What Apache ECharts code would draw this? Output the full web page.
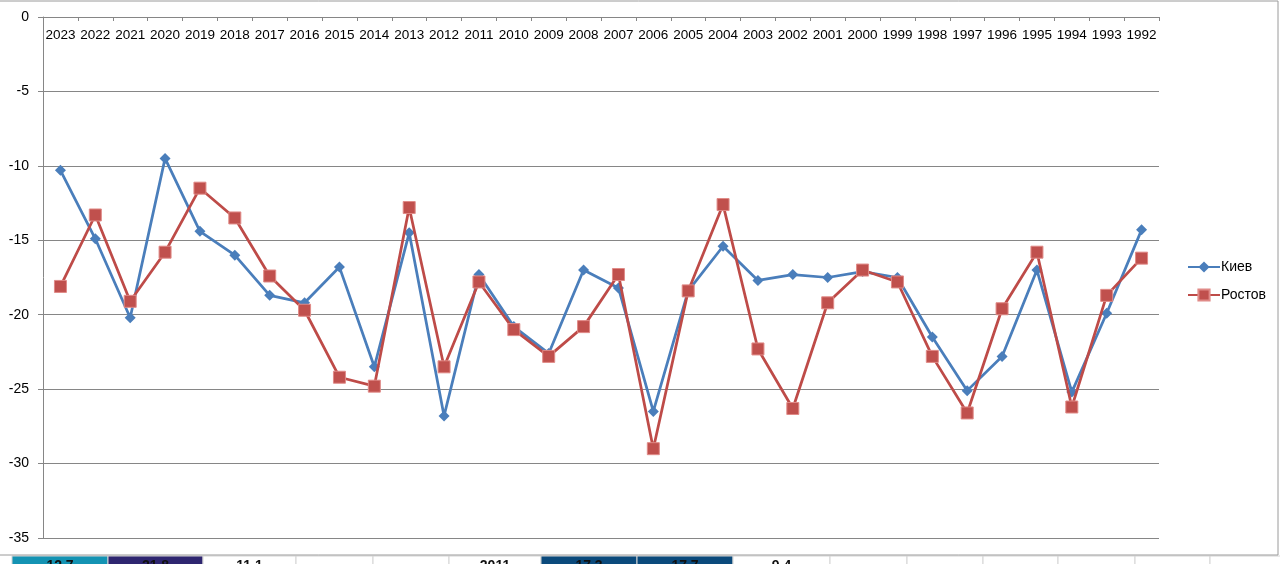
<!DOCTYPE html>
<html>
<head>
<meta charset="utf-8">
<script src="https://cdn.jsdelivr.net/npm/echarts@6/dist/echarts.min.js"></script>
<style>
html,body{margin:0;padding:0;background:#fff;}
#c{width:1280px;height:564px;}
</style>
</head>
<body>
<div id="c"></div>
<script>
var years = ['2023','2022','2021','2020','2019','2018','2017','2016','2015','2014','2013','2012','2011','2010','2009','2008','2007','2006','2005','2004','2003','2002','2001','2000','1999','1998','1997','1996','1995','1994','1993','1992'];
var kiev = [-10.3,-14.9,-20.2,-9.5,-14.4,-16.0,-18.7,-19.2,-16.8,-23.5,-14.5,-26.8,-17.3,-20.8,-22.6,-17.0,-18.2,-26.5,-18.4,-15.4,-17.7,-17.3,-17.5,-17.1,-17.5,-21.5,-25.1,-22.8,-17.0,-25.2,-19.9,-14.3];
var rostov = [-18.1,-13.3,-19.1,-15.8,-11.5,-13.5,-17.4,-19.7,-24.2,-24.8,-12.8,-23.5,-17.8,-21.0,-22.8,-20.8,-17.3,-29.0,-18.4,-12.6,-22.3,-26.3,-19.2,-17.0,-17.8,-22.8,-26.6,-19.6,-15.8,-26.2,-18.7,-16.2];
var seriesNames = ['Киев','Ростов'];

// spreadsheet cells peeking below the chart frame
var cellEdges = [12,108,203,296,373,449,541,637,733,830,907,983,1058,1135,1210,1290];
var cellFills = ['#1493b3','#2e2670','#ffffff','#ffffff','#ffffff','#ffffff','#0b4a7c','#0b4a7c','#ffffff','#ffffff','#ffffff','#ffffff','#ffffff','#ffffff','#ffffff'];
var cellTexts = ['12.7','21.8','11.1','','','2011','17.3','17.7','9.4','','','','','',''];

var graphics = [];
for (var i = 0; i < cellFills.length; i++) {
  graphics.push({type:'rect', shape:{x:cellEdges[i], y:556, width:cellEdges[i+1]-cellEdges[i], height:12},
    style:{fill:cellFills[i], stroke:'#d4d4d4', lineWidth:1}, z:1});
  if (cellTexts[i]) {
    graphics.push({type:'text', x:(cellEdges[i]+cellEdges[i+1])/2, y:559,
      style:{text:cellTexts[i], fill:'#111', font:'bold 14px "Liberation Sans", Arial', align:'center', verticalAlign:'top'}, z:2});
  }
}
graphics.push({type:'rect', shape:{x:-1, y:1, width:1279, height:554}, style:{fill:'none', stroke:'#9a9a9a', lineWidth:1}, z:3});

var chart = echarts.init(document.getElementById('c'), null, {renderer:'canvas'});
chart.setOption({
  backgroundColor:'#ffffff',
  animation:false,
  textStyle:{fontFamily:'"Liberation Sans", Arial, sans-serif'},
  graphic: graphics,
  grid:{left:43, top:17, right:121, bottom:26, containLabel:false},
  legend:{
    data: seriesNames,
    orient:'vertical',
    left:1182, top:255,
    itemWidth:32, itemHeight:14, itemGap:14,
    textStyle:{fontSize:14, color:'#000', padding:[0,0,0,-4]}
  },
  xAxis:{
    type:'category',
    data: years,
    position:'top',
    boundaryGap:true,
    axisLine:{show:true, lineStyle:{color:'#868686', width:1}},
    axisTick:{show:true, inside:true, length:4, lineStyle:{color:'#868686'}},
    axisLabel:{inside:true, margin:11, fontSize:13.5, color:'#000', interval:0},
    splitLine:{show:false}
  },
  yAxis:{
    type:'value',
    min:-35, max:0, interval:5,
    axisLine:{show:true, lineStyle:{color:'#868686', width:1}},
    axisTick:{show:true, length:5, lineStyle:{color:'#868686'}},
    axisLabel:{margin:14, fontSize:14, color:'#000'},
    splitLine:{show:true, lineStyle:{color:'#868686', width:1}}
  },
  series:[
    {name:seriesNames[0], type:'line', data:kiev, symbol:'diamond', symbolSize:11,
      lineStyle:{color:'#4a7ebb', width:2.75}, itemStyle:{color:'#4a7ebb'}, z:2},
    {name:seriesNames[1], type:'line', data:rostov, symbol:'rect', symbolSize:12,
      lineStyle:{color:'#be4b48', width:2.75}, itemStyle:{color:'#c0504d', borderColor:'#e08a87', borderWidth:1}, z:3}
  ]
});
</script>
</body>
</html>
